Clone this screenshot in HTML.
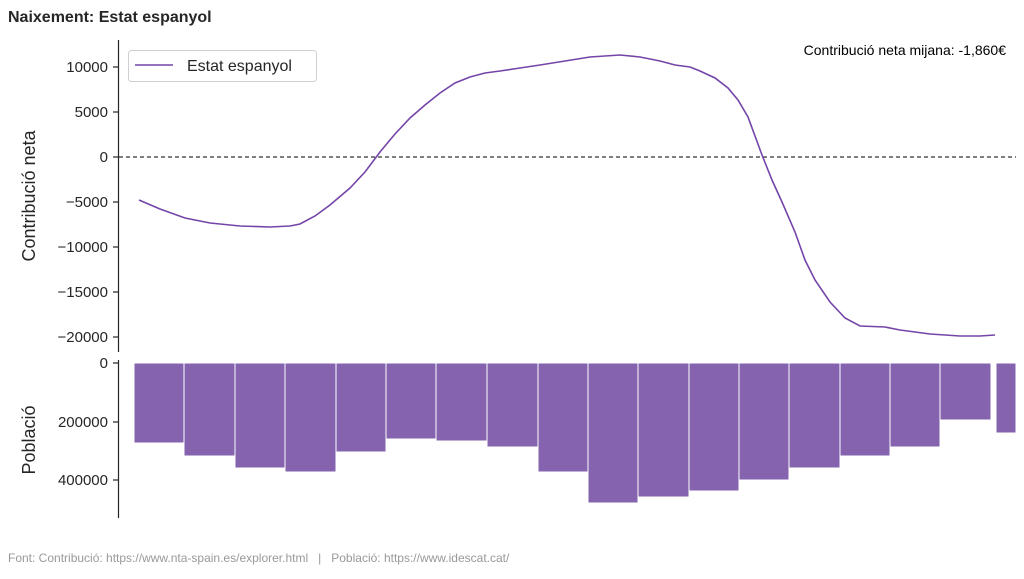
<!DOCTYPE html>
<html><head><meta charset="utf-8"><style>body{margin:0;background:#fff}</style></head><body>
<svg width="1024" height="574" xmlns="http://www.w3.org/2000/svg" font-family="Liberation Sans, sans-serif">
<rect width="1024" height="574" fill="#fff"/>
<text x="8" y="22" font-size="16" font-weight="bold" fill="#262626">Naixement: Estat espanyol</text>
<line x1="118.5" y1="40" x2="118.5" y2="352" stroke="#262626" stroke-width="1.2"/>
<line x1="118.5" y1="360" x2="118.5" y2="518" stroke="#262626" stroke-width="1.2"/>
<g stroke="#262626" stroke-width="1.2">
<line x1="113" y1="67" x2="118" y2="67"/><line x1="113" y1="112" x2="118" y2="112"/><line x1="113" y1="157" x2="118" y2="157"/><line x1="113" y1="202" x2="118" y2="202"/><line x1="113" y1="247" x2="118" y2="247"/><line x1="113" y1="292" x2="118" y2="292"/><line x1="113" y1="337" x2="118" y2="337"/>
<line x1="113" y1="363" x2="118" y2="363"/><line x1="113" y1="422" x2="118" y2="422"/><line x1="113" y1="480" x2="118" y2="480"/>
</g>
<g font-size="15" fill="#262626" text-anchor="end">
<text x="108" y="72">10000</text><text x="108" y="117">5000</text><text x="108" y="162">0</text><text x="108" y="207">−5000</text><text x="108" y="252">−10000</text><text x="108" y="297">−15000</text><text x="108" y="342">−20000</text>
<text x="108" y="368">0</text><text x="108" y="427">200000</text><text x="108" y="485">400000</text>
</g>
<text transform="translate(35,196) rotate(-90)" font-size="18" fill="#262626" text-anchor="middle">Contribució neta</text>
<text transform="translate(35,440) rotate(-90)" font-size="18" fill="#262626" text-anchor="middle">Població</text>
<line x1="119" y1="157" x2="1016" y2="157" stroke="#000" stroke-width="1" stroke-dasharray="4,3"/>
<polyline fill="none" stroke="#7445a8" stroke-width="1.6" points="139,200 160,209 185,218 210,223 240,226 270,227 290,226 300,224 315,216 330,205 350,188 365,172 380,152 395,134 410,118 425,105 440,93 455,83 470,77 485,73 500,71 520,68 540,65 565,61 590,57 620,55 640,57 660,61 675,65 690,67 700,71 715,78 728,88 738,100 748,117 762,155 772,180 782,202 795,232 805,260 815,280 830,302 845,318 860,326 885,327 900,330 930,334 960,336 980,336 995,335"/>
<g fill="#8663af" stroke="#fff" stroke-width="1">
<rect x="134" y="363" width="50" height="80"/><rect x="184" y="363" width="51" height="93"/><rect x="235" y="363" width="50" height="105"/><rect x="285" y="363" width="51" height="109"/><rect x="336" y="363" width="50" height="89"/><rect x="386" y="363" width="50" height="76"/><rect x="436" y="363" width="51" height="78"/><rect x="487" y="363" width="51" height="84"/><rect x="538" y="363" width="50" height="109"/><rect x="588" y="363" width="50" height="140"/><rect x="638" y="363" width="51" height="134"/><rect x="689" y="363" width="50" height="128"/><rect x="739" y="363" width="50" height="117"/><rect x="789" y="363" width="51" height="105"/><rect x="840" y="363" width="50" height="93"/><rect x="890" y="363" width="50" height="84"/><rect x="940" y="363" width="51" height="57"/><rect x="996" y="363" width="20" height="70"/>
</g>
<rect x="128.5" y="50.5" width="188" height="31" rx="3" fill="#fff" stroke="#d0d0d0"/>
<line x1="135" y1="65" x2="173" y2="65" stroke="#7445a8" stroke-width="1.6"/>
<text x="187" y="71" font-size="16" fill="#262626">Estat espanyol</text>
<text x="1006" y="55" font-size="14" fill="#000" text-anchor="end">Contribució neta mijana: -1,860€</text>
<text x="8" y="562" font-size="12" fill="#999" xml:space="preserve" style="white-space:pre">Font: Contribució: https://www.nta-spain.es/explorer.html   |   Població: https://www.idescat.cat/</text>
</svg>
</body></html>
